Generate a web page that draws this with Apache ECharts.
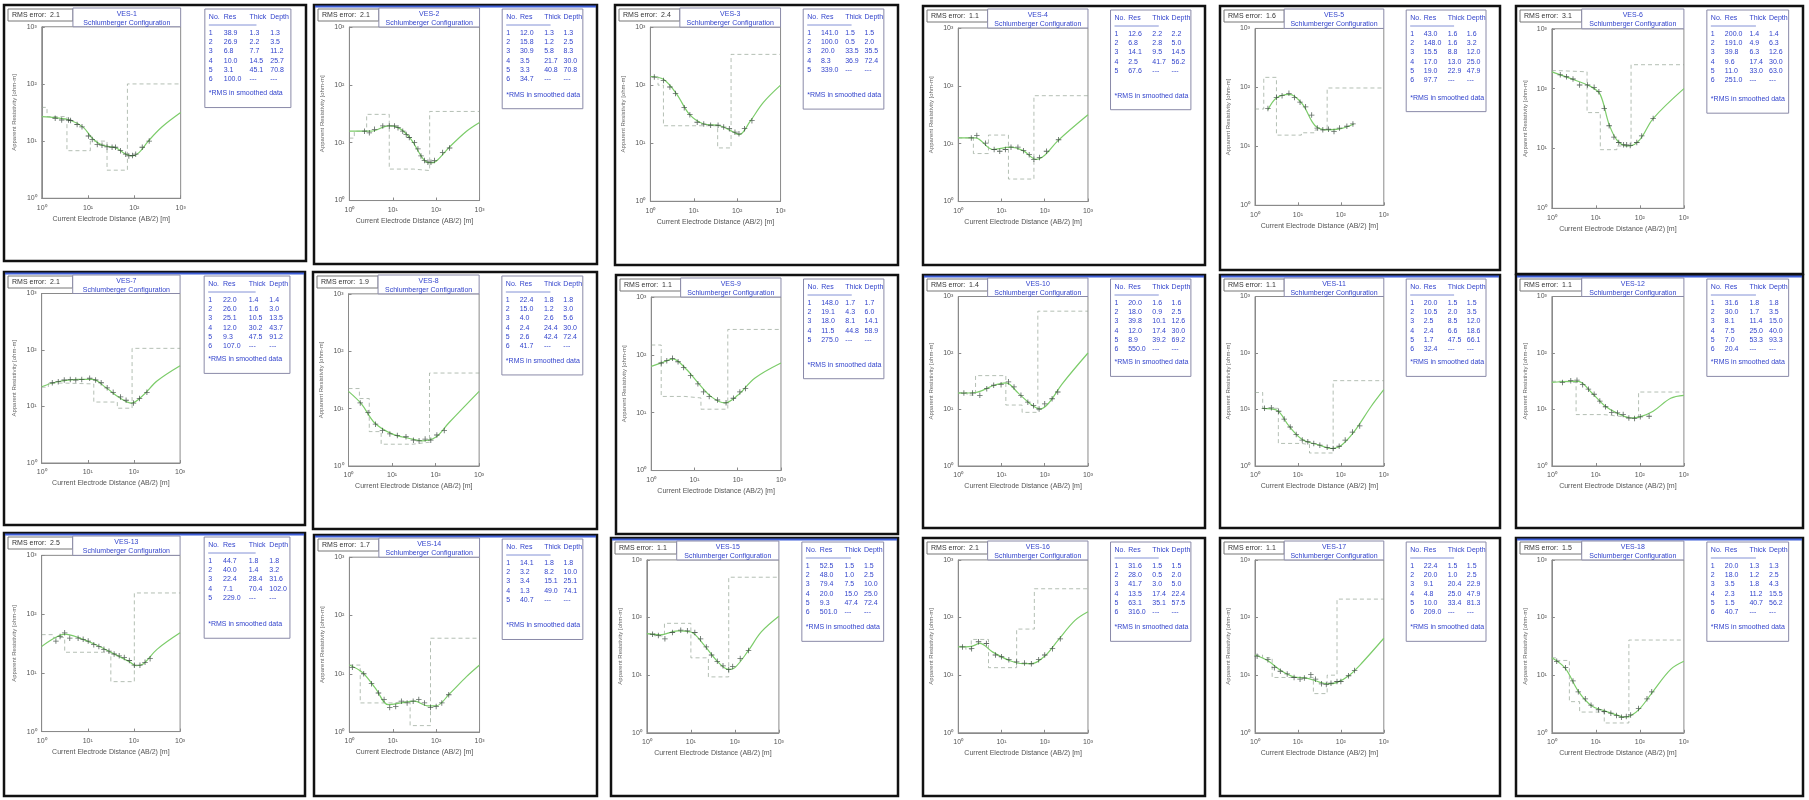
<!DOCTYPE html>
<html><head><meta charset="utf-8">
<script src="https://cdn.jsdelivr.net/npm/echarts@6/dist/echarts.min.js"></script>
<style>html,body{margin:0;padding:0;background:#fff}#c{width:1809px;height:800px}</style>
</head><body><div id="c"></div>
<script>
// ---------- DATA ----------
const vesNames = ['VES-1','VES-2','VES-3','VES-4','VES-5','VES-6','VES-7','VES-8','VES-9','VES-10','VES-11','VES-12','VES-13','VES-14','VES-15','VES-16','VES-17','VES-18'];
const rmsErrors = [2.1, 2.1, 2.4, 1.1, 1.6, 3.1, 2.1, 1.9, 1.1, 1.4, 1.1, 1.1, 2.5, 1.7, 1.1, 2.1, 1.1, 1.5];
const configName = 'Schlumberger Configuration';
const xTickLabels = ['10\u2070','10\u00b9','10\u00b2','10\u00b3'];
const yTickLabels = ['10\u2070','10\u00b9','10\u00b2','10\u00b3'];
const tableHeader = ['No.','Res','Thick','Depth'];

const ves01Data = [[1.95,25.1],[2.7,23.4],[3.8,23.4],[4.2,22.9],[5.8,19.5],[7.4,17.8],[10.2,12.3],[12.3,10.7],[15.8,8.7],[20,8.5],[25.7,7.9],[33,7.8],[39,7.8],[50,6.8],[65,5.9],[76,5.5],[91,5.6],[107,5.9],[148,7.8],[209,10]];
const ves01Fit = [[1,26.9],[2,25.7],[4,23.4],[7.9,17.4],[12.6,11],[20,8.5],[40,7.6],[63,6.0],[89,5.5],[126,6.3],[200,10],[398,17.8],[1000,31.6]];
const ves01Res = [38.9,26.9,6.8,10,3.1,100];
const ves01Depth = [1.3,3.5,11.2,25.7,70.8];

const ves02Data = [[2.24,15.8],[2.88,14.8],[3.8,17],[5.89,19.5],[8.32,19.5],[11,19.5],[13.2,18.2],[17,15.8],[20.4,13.8],[24,12.3],[31.6,10],[38,7.8],[44.7,5.9],[53.7,4.9],[64.6,4.6],[75.9,4.6],[91.2,4.9],[141,6.8],[204,8.1]];
const ves02Fit = [[1,15.8],[3.16,15.8],[7.94,19.5],[12.6,18.6],[25.1,12],[50.1,5.25],[70.8,4.47],[100,4.79],[200,8.32],[501,15.8],[1000,22.4]];
const ves02Res = [12,15.8,30.9,3.5,3.3,34.7];
const ves02Depth = [1.3,2.5,8.3,30,70.8];

const ves03Data = [[1.23,138],[2,120],[2.82,93],[3.8,72],[6.03,41],[8.13,31],[12,23],[17,21.4],[24.5,20.4],[36.3,20.4],[49,19],[66,17.8],[89,15.5],[110,14.5],[148,17.8],[219,24.5]];
const ves03Fit = [[1,141],[2,126],[4,71],[7.9,31.6],[15.8,21.9],[39.8,20],[79.4,15.8],[112,14.1],[200,24],[398,50],[1000,100]];
const ves03Res = [141,100,20,8.3,339];
const ves03Depth = [1.5,2,35.5,72.4];

const ves04Data = [[2,12.6],[2.69,13.8],[4.27,10.2],[6.76,7.94],[9.12,7.41],[12.3,7.94],[16.6,8.71],[24,8.71],[32.4,7.59],[43.7,6.46],[56.2,5.37],[75.9,5.75],[110,7.41],[209,11.7]];
const ves04Fit = [[1,12.6],[2.5,12.6],[6.3,7.94],[15.8,8.71],[31.6,7.59],[63,5.37],[100,6.31],[200,11.2],[1000,31.6]];
const ves04Res = [12.6,6.76,14.1,2.45,67.6];
const ves04Depth = [2.24,5,14.5,56.2];

const ves05Data = [[2,43.7],[3.16,67.6],[4.27,72.4],[6.17,79.4],[8.32,67.6],[11.2,56.2],[15.1,46.8],[20.9,33.9],[28.2,20.4],[38,19.1],[51.3,19.5],[69.2,17.8],[93.3,20.4],[138,21.9],[191,24]];
const ves05Fit = [[2,41.7],[3.16,66],[6.3,75.9],[12.6,52.5],[25.1,22.4],[50.1,19.1],[100,20],[200,24]];
const ves05Res = [43,148,15.5,17,19,97.7];
const ves05Depth = [1.6,3.16,12,25,47.9];

const ves06Data = [[1.55,170],[2.14,158],[3.02,145],[4.27,115],[6.46,115],[9.12,105],[11.7,89],[15.5,46.8],[20,24],[25.7,15.5],[33.1,12.6],[42.7,11.5],[50.1,11.5],[60.3,11.2],[85.1,12.6],[110,16.2],[200,31.6]];
const ves06Fit = [[1,191],[3.16,141],[7.94,107],[12.6,79.4],[20,25.1],[31.6,13.2],[56.2,11],[100,14.1],[200,31.6],[1000,100]];
const ves06Res = [200,191,39.8,9.55,11,251];
const ves06Depth = [1.4,6.3,12.6,30,63];

const ves07Data = [[1.7,26.3],[2.29,27.5],[3.09,29.5],[4.17,30.2],[5.5,29.5],[7.41,30.2],[11,31.6],[14.8,29.5],[19.5,26.3],[26.3,21.4],[35.5,17.8],[51.3,14.8],[67.6,12.9],[97.7,11.5],[132,13.8],[191,17.8]];
const ves07Fit = [[1,22.4],[2,26.9],[6.3,30.2],[12.6,30.2],[25.1,21.4],[50.1,14.1],[89,11.5],[158,15.8],[316,28.2],[1000,52.5]];
const ves07Res = [22,26,25.1,12,9.33,107];
const ves07Depth = [1.4,3,13.5,43.7,91.2];

const ves08Data = [[1.86,12.6],[2.82,8.51],[4.17,5.37],[6.03,4.17],[8.91,3.63],[13.2,3.39],[20.9,3.24],[30.9,2.82],[41.7,2.75],[57.5,2.95],[77.6,2.82],[107,3.47],[158,4.17]];
const ves08Fit = [[1,20],[2,12],[4,5.62],[10,3.63],[25.1,3.02],[50.1,2.75],[100,3.16],[200,5.62],[1000,20]];
const ves08Res = [22.4,15,3.98,2.4,2.6,41.7];
const ves08Depth = [1.78,3,5.62,30,72.4];

const ves09Data = [[1.7,72.4],[2.29,79.4],[3.09,87.1],[4.17,75.9],[5.62,60.3],[8.13,43.7],[12,31.6],[16.2,22.9],[21.9,19.1],[33.9,16.6],[53.7,14.8],[79.4,17.8],[112,22.9],[151,26.3]];
const ves09Fit = [[1,63.1],[2,75.9],[3.16,85.1],[6.3,57.5],[12.6,31.6],[25.1,18.6],[50.1,14.8],[100,20],[251,39.8],[1000,72.4]];
const ves09Res = [148,19.1,18,11.5,275];
const ves09Depth = [1.7,6,14.1,58.9];

const ves10Data = [[1.35,19.5],[2.14,19.5],[3.16,17.8],[4.57,23.4],[6.61,26.9],[9.77,27.5],[14.5,30.9],[19.5,25.1],[28.2,17.8],[40.7,13.5],[55,11.7],[74.1,10.2],[100,12.6],[148,15.5],[200,20.4]];
const ves10Fit = [[1,19.5],[2.5,20],[6.3,26.3],[12.6,29.5],[25.1,19.1],[50.1,12],[79.4,10.2],[126,13.2],[251,28.2],[1000,100]];
const ves10Res = [20,18,39.8,12,8.91,550];
const ves10Depth = [1.6,2.51,12.6,30,69.2];

const ves11Data = [[1.66,10.5],[2.4,10.7],[3.55,9.33],[4.79,6.76],[6.61,4.9],[9.12,3.63],[12.6,2.88],[17,2.69],[23.4,2.51],[32.4,2.34],[47.9,2.14],[66.1,2.04],[91.2,2.24],[126,2.88],[186,3.98],[275,5.13]];
const ves11Fit = [[1.51,10.5],[3.16,9.77],[6.3,5.01],[12.6,2.95],[31.6,2.34],[63.1,2.04],[100,2.29],[200,3.98],[501,11.2],[1000,22.4]];
const ves11Res = [20,10.5,2.51,2.4,1.7,32.4];
const ves11Depth = [1.51,3.5,12,18.6,66.1];

const ves12Data = [[1.74,30.2],[2.69,32.4],[3.72,33.1],[5.01,27.5],[6.76,22.9],[9.12,18.6],[12.3,14.1],[16.6,11.2],[22.9,8.91],[30.9,8.71],[41.7,8.13],[56.2,7.08],[75.9,6.92],[102,7.41],[162,7.59]];
const ves12Fit = [[1,30.2],[2.51,31.6],[3.98,31.6],[7.94,20],[15.8,11.7],[31.6,8.51],[63.1,7.08],[100,7.41],[200,9.33],[501,15.8],[1000,17.8]];
const ves12Res = [31.6,30,8.13,7.5,7,20.4];
const ves12Depth = [1.8,3.55,15,40,93.3];

const ves13Data = [[2.04,34.7],[2.51,41.7],[3.16,47.9],[4.07,38.9],[6.17,38.9],[7.94,37.2],[10.2,34.7],[13.5,30.2],[17.4,28.2],[22.4,25.1],[28.8,23.4],[37.2,20.9],[47.9,19.5],[61.7,18.2],[79.4,16.2],[102,13.5],[135,13.5],[174,15.1],[224,17.4]];
const ves13Fit = [[1,28.2],[2,39.8],[3.16,45.7],[6.3,39.8],[15.8,29.5],[39.8,20.4],[79.4,15.5],[112,13.2],[158,14.1],[316,25.1],[1000,47.9]];
const ves13Res = [44.7,40,22.4,7.08,229];
const ves13Depth = [1.8,3.16,31.6,102];

const ves14Data = [[1.17,12.9],[2.14,10],[3.24,6.76],[4.68,4.68],[6.31,3.63],[8.51,2.63],[11.7,2.75],[15.8,3.39],[21.4,3.16],[29.5,3.39],[39.8,3.63],[53.7,3.16],[74.1,2.63],[100,2.75],[135,3.16],[195,4.37]];
const ves14Fit = [[1,14.1],[2,10.5],[4,5.62],[7.94,2.95],[15.8,3.16],[31.6,3.39],[63.1,2.82],[100,2.82],[200,4.47],[501,8.91],[1000,14.1]];
const ves14Res = [14.1,3.16,3.4,1.29,40.7];
const ves14Depth = [1.78,10,25.1,74.1];

const ves15Data = [[1.35,51.3],[1.82,49],[2.57,42.7],[3.8,55],[5.89,60.3],[8.32,58.9],[12.3,55],[16.6,42.7],[22.4,30.9],[29.5,22.4],[39.8,17.4],[53.7,14.5],[72.4,12.6],[89.1,14.1],[132,19.5],[204,26.9]];
const ves15Fit = [[1,52.5],[2,50.1],[5.01,58.9],[10,56.2],[20,33.1],[39.8,17.4],[70.8,12.6],[100,13.5],[200,26.3],[398,56.2],[1000,105]];
const ves15Res = [52.5,48,79.4,20,9.33,501];
const ves15Depth = [1.5,2.51,10,25,72.4];

const ves16Data = [[1.26,30.9],[2.04,28.8],[2.95,38],[4.47,35.5],[7.24,22.4],[10,20.9],[14.8,18.6],[22.4,17],[33.9,16.2],[49,15.8],[72.4,18.6],[100,22.4],[151,28.8],[229,42.7]];
const ves16Fit = [[1,30.9],[2,31.6],[3.16,35.5],[6.3,25.1],[15.8,17.8],[31.6,15.8],[50.1,15.8],[100,21.4],[200,39.8],[501,89.1],[1000,126]];
const ves16Res = [31.6,28,41.7,13.5,63.1,316];
const ves16Depth = [1.5,2,5.01,22.4,57.5];

const ves17Data = [[1.12,21.4],[2,18.6],[2.82,13.5],[3.89,11.7],[5.62,10.5],[8.13,9.12],[11.2,8.51],[14.1,8.91],[20,10.2],[25.7,8.51],[35.5,7.08],[45.7,6.92],[58.9,7.24],[81.3,7.76],[100,7.76],[151,9.77],[209,12]];
const ves17Fit = [[1,22.4],[2,17.8],[4,12],[7.94,9.33],[15.8,8.91],[31.6,7.59],[50.1,7.08],[79.4,7.41],[158,10],[316,16.6],[1000,43.7]];
const ves17Res = [22.4,20,9.12,4.79,10,209];
const ves17Depth = [1.5,2.51,22.9,47.9,81.3];

const ves18Data = [[1.29,17.4],[2.04,13.5],[3.02,7.94],[3.98,5.13],[5.75,3.89],[7.76,3.02],[11.5,2.51],[15.5,2.34],[21.9,2.19],[29.5,2],[38,1.86],[49,1.91],[61.7,2.04],[93.3,2.63],[145,3.89],[186,5.13]];
const ves18Fit = [[1,20],[2,13.2],[4,5.25],[7.94,2.95],[15.8,2.4],[31.6,2],[44.7,1.86],[63.1,2],[100,2.63],[200,5.25],[501,12.6],[1000,17.4]];
const ves18Res = [20,18,3.47,2.29,1.48,40.7];
const ves18Depth = [1.26,2.5,4.27,15.5,56.2];

// ---------- LAYOUT ----------
const frames = [
  [4,5,302,256],[314,5,283,259],[615,5,283,260],[923,6,282,259],[1220,6,280,264],[1516,6,287,268],
  [4,272,301,253],[313,272,284,257],[616,275,282,259],[923,275,282,253],[1220,275,280,253],[1516,275,287,253],
  [4,533,301,263],[314,535,283,261],[611,538,287,258],[923,538,282,258],[1220,538,280,258],[1516,538,287,258]
];
const blueTop = [1,6,9,10,11,12,13,14,17];
const panelData = [
  [ves01Data,ves01Fit,ves01Res,ves01Depth],[ves02Data,ves02Fit,ves02Res,ves02Depth],[ves03Data,ves03Fit,ves03Res,ves03Depth],
  [ves04Data,ves04Fit,ves04Res,ves04Depth],[ves05Data,ves05Fit,ves05Res,ves05Depth],[ves06Data,ves06Fit,ves06Res,ves06Depth],
  [ves07Data,ves07Fit,ves07Res,ves07Depth],[ves08Data,ves08Fit,ves08Res,ves08Depth],[ves09Data,ves09Fit,ves09Res,ves09Depth],
  [ves10Data,ves10Fit,ves10Res,ves10Depth],[ves11Data,ves11Fit,ves11Res,ves11Depth],[ves12Data,ves12Fit,ves12Res,ves12Depth],
  [ves13Data,ves13Fit,ves13Res,ves13Depth],[ves14Data,ves14Fit,ves14Res,ves14Depth],[ves15Data,ves15Fit,ves15Res,ves15Depth],
  [ves16Data,ves16Fit,ves16Res,ves16Depth],[ves17Data,ves17Fit,ves17Res,ves17Depth],[ves18Data,ves18Fit,ves18Res,ves18Depth]
];

function stepLine(res, depth){
  const pts=[]; let top=1;
  for(let i=0;i<res.length;i++){ const bot = i<depth.length ? depth[i] : 1000; pts.push([top,res[i]],[bot,res[i]]); top=bot; }
  return pts;
}
function fmt(v){ return v>=1000 ? v.toFixed(0) : v.toFixed(1); }
function tickFmt(labels){ return function(v){ const k=Math.round(Math.log10(v)); return labels[k]!==undefined?labels[k]:''; }; }

const FONT = 'Liberation Sans';
const crossSym = 'path://M-0.6,-4h1.2v8h-1.2zM-4,-0.6h8v1.2h-8z';
const grids=[], xAxes=[], yAxes=[], series=[], graphics=[];

frames.forEach((f,i)=>{
  const [fx,fy,w,h]=f;
  const gl=fx+0.125*w, gt=fy+0.085*h, gw=0.46*w, gh=0.67*h;
  grids.push({left:gl, top:gt, width:gw, height:gh, show:true, borderColor:'#8a8a8a', borderWidth:1, backgroundColor:'#fff'});
  xAxes.push({gridIndex:i, type:'log', logBase:10, min:1, max:1000, splitNumber:3,
    axisLine:{lineStyle:{color:'#8a8a8a'}}, axisTick:{inside:true,length:3,lineStyle:{color:'#8a8a8a'}},
    axisLabel:{fontSize:7, color:'#555', fontFamily:FONT, margin:6, formatter:tickFmt(xTickLabels)},
    splitLine:{show:false}, minorTick:{show:false},
    name:'Current Electrode Distance (AB/2) [m]', nameLocation:'middle', nameGap:17,
    nameTextStyle:{fontSize:7, color:'#555', fontFamily:FONT}});
  yAxes.push({gridIndex:i, type:'log', logBase:10, min:1, max:1000, splitNumber:3,
    axisLine:{lineStyle:{color:'#8a8a8a'}}, axisTick:{inside:true,length:3,lineStyle:{color:'#8a8a8a'}},
    axisLabel:{fontSize:7, color:'#555', fontFamily:FONT, margin:5, formatter:tickFmt(yTickLabels)},
    splitLine:{show:false},
    name:'Apparent Resistivity [ohm-m]', nameLocation:'middle', nameGap:24, nameRotate:90,
    nameTextStyle:{fontSize:6, color:'#666', fontFamily:FONT}});
  const [d,fit,res,dep]=panelData[i];
  series.push({type:'line', xAxisIndex:i, yAxisIndex:i, data:stepLine(res,dep), symbol:'none', silent:true,
    lineStyle:{color:'#8f9f8f', width:0.9, type:[4,3], opacity:0.75}, z:2});
  series.push({type:'line', xAxisIndex:i, yAxisIndex:i, data:fit, symbol:'none', smooth:0.35, silent:true,
    lineStyle:{color:'#7ccc6a', width:1.2}, z:3});
  series.push({type:'scatter', xAxisIndex:i, yAxisIndex:i, data:d, symbol:crossSym, symbolSize:5.5, silent:true,
    itemStyle:{color:'#34453a'}, z:4});

  // frame
  graphics.push({type:'rect', z:-10, shape:{x:fx,y:fy,width:w,height:h}, style:{fill:'#fff', stroke:'#111', lineWidth:2.5}});
  if(blueTop.indexOf(i)>=0){
    graphics.push({type:'line', z:-9, shape:{x1:fx+1,y1:fy+1.5,x2:fx+w-1,y2:fy+1.5}, style:{stroke:'#3f5fd8', lineWidth:2}});
  }
  // RMS box
  const rw=0.215*w;
  graphics.push({type:'rect', z:20, shape:{x:fx+4,y:fy+4,width:rw,height:12}, style:{fill:'#fff', stroke:'#777', lineWidth:1}});
  graphics.push({type:'text', z:21, x:fx+8, y:fy+10, style:{text:'RMS error:  '+rmsErrors[i].toFixed(1), font:'7px '+FONT, fill:'#333', verticalAlign:'middle'}});
  // title box
  const tx=fx+4+rw, tr=gl+gw;
  graphics.push({type:'rect', z:20, shape:{x:tx,y:fy+3,width:tr-tx,height:gt-fy-3}, style:{fill:'#fff', stroke:'#8a8aa8', lineWidth:1}});
  graphics.push({type:'text', z:21, x:(tx+tr)/2, y:fy+9, style:{text:vesNames[i], font:'7px '+FONT, fill:'#3344cc', align:'center', verticalAlign:'middle'}});
  graphics.push({type:'text', z:21, x:(tx+tr)/2, y:fy+18, style:{text:configName, font:'7px '+FONT, fill:'#3344cc', align:'center', verticalAlign:'middle'}});
  // legend table box
  const lx=fx+0.665*w, lw=0.285*w, ly=fy+4, lh=0.385*h;
  graphics.push({type:'rect', z:20, shape:{x:lx,y:ly,width:lw,height:lh}, style:{fill:'#fff', stroke:'#8a8aa8', lineWidth:1}});
  const cols=[lx+4, lx+0.22*lw, lx+0.52*lw, lx+0.76*lw];
  tableHeader.forEach((t,k)=>graphics.push({type:'text', z:21, x:cols[k], y:ly+8, style:{text:t, font:'7px '+FONT, fill:'#3344cc', verticalAlign:'middle'}}));
  graphics.push({type:'line', z:21, shape:{x1:lx+4,y1:ly+16,x2:lx+0.6*lw,y2:ly+16}, style:{stroke:'#6677cc', lineWidth:0.8}});
  res.forEach((r,k)=>{
    const y=ly+24+k*9.2;
    const thick = k<dep.length ? (dep[k]-(k>0?dep[k-1]:0)) : null;
    const cells=[String(k+1), fmt(r), thick===null?'---':fmt(thick), k<dep.length?fmt(dep[k]):'---'];
    cells.forEach((t,c)=>graphics.push({type:'text', z:21, x:cols[c], y:y, style:{text:t, font:'7px '+FONT, fill:'#3344cc', verticalAlign:'middle'}}));
  });
  graphics.push({type:'text', z:21, x:lx+4, y:ly+lh-14, style:{text:'*RMS in smoothed data', font:'7px '+FONT, fill:'#3344cc', verticalAlign:'middle'}});
});

const chart = echarts.init(document.getElementById('c'), null, {renderer:'canvas', width:1809, height:800});
chart.setOption({animation:false, backgroundColor:'#fff', grid:grids, xAxis:xAxes, yAxis:yAxes, series:series, graphic:{elements:graphics}});
</script></body></html>
